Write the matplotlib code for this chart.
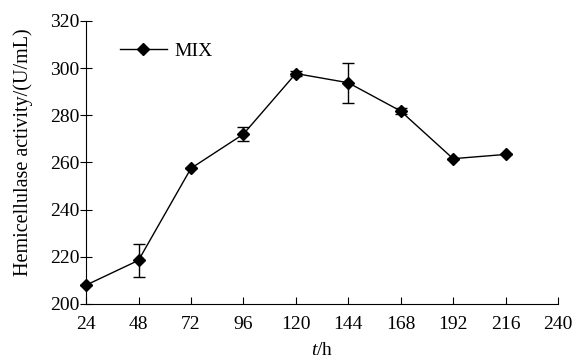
import numpy as np
import matplotlib.pyplot as plt
from matplotlib.lines import Line2D

plt.rcParams['font.family'] = ['Liberation Serif', 'DejaVu Serif']
plt.rcParams['mathtext.fontset'] = 'custom'
plt.rcParams['mathtext.it'] = 'Liberation Serif:italic'
plt.rcParams['mathtext.rm'] = 'Liberation Serif'

# Time (h) and activity values
hours = [24, 48, 72, 96, 120, 144, 168, 192, 216]
activity = [208, 218.5, 257.5, 272, 297.7, 293.8, 281.8, 261.6, 263.4]
err = [0, 7, 0, 3, 1.2, 8.4, 1.2, 0, 0]

x_ticks = [24, 48, 72, 96, 120, 144, 168, 192, 216, 240]
y_ticks = [200, 220, 240, 260, 280, 300, 320]

fig = plt.figure(figsize=(5.74, 3.61), dpi=100)
ax = fig.add_axes([0.15, 0.158, 0.822, 0.784])

ax.errorbar(hours, activity, yerr=err, color='black', marker='D', markersize=6,
            linewidth=1, elinewidth=1, capsize=4.5, capthick=1, clip_on=False)

ax.set_xlim(24, 240)
ax.set_ylim(200, 320)
ax.set_xticks(x_ticks)
ax.set_yticks(y_ticks)
ax.spines['top'].set_visible(False)
ax.spines['right'].set_visible(False)
ax.tick_params(axis='x', direction='in', length=5, labelsize=14, pad=9)
ax.tick_params(axis='y', direction='inout', length=8, labelsize=14, pad=1)

ax.set_xlabel(r'$t$/h', fontsize=14)
ax.set_ylabel('Hemicellulase activity/(U/mL)', fontsize=14.5)
ax.xaxis.set_label_coords(0.5, -0.135)
ax.yaxis.set_label_coords(-0.112, 0.535)

handle = Line2D([], [], color='black', marker='D', markersize=6, linewidth=1)
ax.legend([handle], ['MIX'], loc='upper left', frameon=False, fontsize=14,
          handlelength=2.4, handletextpad=0.4, bbox_to_anchor=(0.035, 0.985))

fig.savefig('out.png', dpi=100)
